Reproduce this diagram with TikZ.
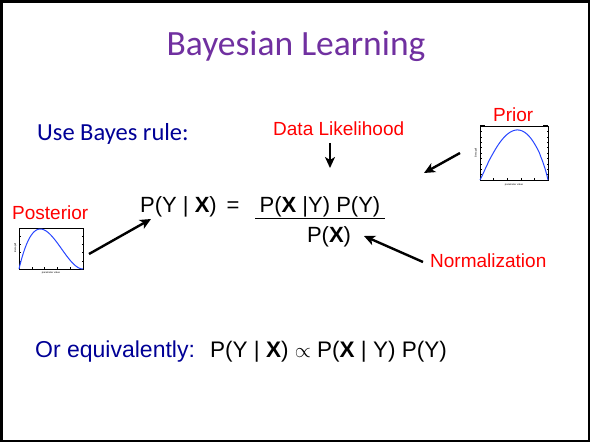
\documentclass[tikz,border=0pt]{standalone}
\usepackage{fontspec}
\setmainfont{Liberation Sans}
\newfontfamily\calib{Carlito}
\usetikzlibrary{arrows.meta}
\definecolor{ttlpurple}{RGB}{112,48,160}
\definecolor{txtblue}{RGB}{0,0,150}
\definecolor{crvblue}{RGB}{40,70,255}
\tikzset{
  lbl/.style={text=red,font=\fontsize{19}{21}\selectfont,inner sep=0pt,anchor=base west},
  eq/.style={font=\fontsize{22}{24}\selectfont,inner sep=0pt},
  bigarrow/.style={line width=2.4pt,-{Stealth[length=11pt,width=10pt,inset=3pt]}},
  tiny/.style={font=\fontsize{2.5}{3}\selectfont,inner sep=0pt},
}
\begin{document}
\begin{tikzpicture}[x=1pt,y=-1pt]
\useasboundingbox (0,0) rectangle (592,443);
\fill[white] (0,0) rectangle (592,443);
\draw[line width=2.5pt] (1.5,1.5) rectangle (589,441);
% title
\node[text=ttlpurple,font=\calib\fontsize{35.5}{38}\selectfont,inner sep=0pt,anchor=base] (title) at (296,56) {Bayesian Learning};
\node[text=txtblue,font=\calib\fontsize{24.5}{27}\selectfont,inner sep=0pt,anchor=base west] (use) at (37,141) {Use Bayes rule:};
% labels
\node[lbl] (dl) at (273,136) {Data Likelihood};
\node[lbl] (prior) at (493,122) {Prior};
\node[lbl] (post) at (12,220) {Posterior};
\node[lbl] (norm) at (430,268) {Normalization};
% equation
\node[eq,anchor=base west] (lhs) at (140,213) {P(Y | \textbf{X})};
\node[eq,anchor=base] (eqs) at (233,213) {=};
\node[eq,anchor=base] (num) at (320,213) {P(\textbf{X} |Y) P(Y)};
\node[eq,anchor=base] (den) at (329,243) {P(\textbf{X})};
\coordinate (fl) at (255,218.5);
\coordinate (fr) at (385,218.5);
\draw[line width=1.3pt] (fl) -- (fr);
% or equivalently
\node[text=txtblue,font=\fontsize{23}{25}\selectfont,inner sep=0pt,anchor=base west] (oreq) at (35,358) {Or equivalently:};
\node[font=\fontsize{22.5}{25}\selectfont,inner sep=0pt,anchor=base west] (prop) at (210,358) {P(Y | \textbf{X}) $\propto$ P(\textbf{X} | Y) P(Y)};
% prior plot
\node[tiny,rotate=90] (priory) at (476,153) {Beta pdf};
\node[tiny] (priorx) at (514,184.5) {parameter value};
\draw[line width=0.5pt] (480,126) rectangle (548,180);
\draw[line width=1.2pt] (480,126) -- (485,126) (543,126) -- (548,126);
\foreach \i in {1,...,9}{\draw[line width=0.3pt] (480,{180-5.4*\i}) -- (481.5,{180-5.4*\i}) (548,{180-5.4*\i}) -- (546.5,{180-5.4*\i});}
\foreach \i in {1,...,4}{\draw[line width=0.3pt] ({480+13.6*\i},180) -- ({480+13.6*\i},178.5);}
\draw[crvblue,line width=1pt] (480,180) -- plot[domain=0.01:0.99,samples=60,smooth] ({480+68*\x},{180-50*pow(\x,1.1)*pow(1-\x,0.9)/0.2524}) -- (548,180);
% posterior plot
\node[tiny,rotate=90] (posty) at (15.5,248) {Beta pdf};
\node[tiny] (postx) at (51,272.5) {parameter value};
\draw[line width=0.5pt] (19,228) rectangle (83,269);
\foreach \i in {1,...,4}{\draw[line width=0.3pt] (19,{269-8.2*\i}) -- (20.5,{269-8.2*\i}) (83,{269-8.2*\i}) -- (81.5,{269-8.2*\i});}
\foreach \i in {1,...,4}{\draw[line width=0.3pt] ({19+12.8*\i},269) -- ({19+12.8*\i},267.5);}
\draw[crvblue,line width=1pt] plot[domain=0:1,samples=60,smooth] ({19+64*\x},{269-40*6.75*\x*(1-\x)*(1-\x)});
% arrows
\coordinate (dls) at (330,143);
\coordinate (dle) at (330,168);
\draw[bigarrow] (dls) -- (dle);
\coordinate (prs) at (460,153);
\coordinate (pre) at (424,173);
\draw[bigarrow] (prs) -- (pre);
\coordinate (pos) at (89,254);
\coordinate (poe) at (151,219);
\draw[bigarrow] (pos) -- (poe);
\coordinate (nos) at (423,262);
\coordinate (noe) at (364,236);
\draw[bigarrow] (nos) -- (noe);
\end{tikzpicture}
\end{document}
